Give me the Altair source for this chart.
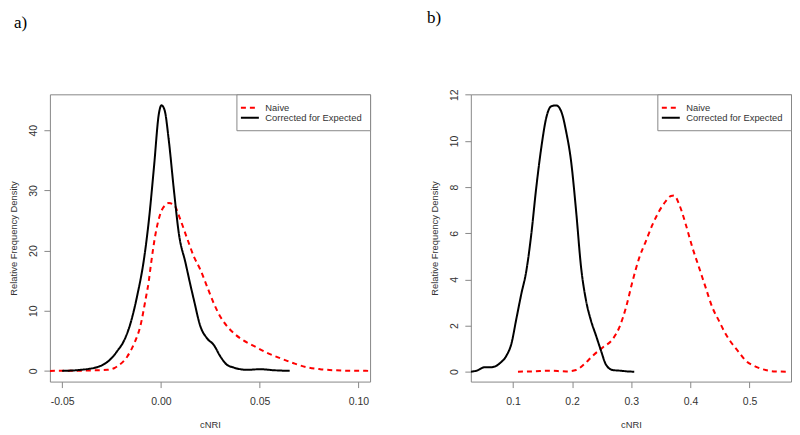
import altair as alt
import pandas as pd

# ---------------- Panel a ----------------
a_naive_x = [-0.0562, -0.045, -0.0389, -0.0271, -0.0237, -0.0221, -0.017, -0.0136, -0.0103, -0.0077,
             -0.0061, -0.0052, -0.0027, -0.0002, 0.0024, 0.004, 0.0066, 0.0099, 0.0133, 0.0167, 0.02,
             0.0234, 0.0268, 0.0301, 0.0352, 0.0402, 0.047, 0.0537, 0.0604, 0.0672, 0.0739, 0.0806,
             0.0874, 0.0958, 0.1055]
a_naive_y = [0, 0.01, 0.05, 0.17, 0.44, 0.75, 2.4, 4.5, 7.6, 12.0,
             15.0, 17.3, 22.8, 26.2, 27.6, 27.9, 27.6, 25.1, 22.0, 19.0, 16.8,
             14.0, 11.2, 9.0, 6.8, 5.4, 4.15, 3.0, 2.1, 1.27, 0.6, 0.28,
             0.11, 0.02, 0]
a_corr_x = [-0.050, -0.0406, -0.0305, -0.0237, -0.0221, -0.0187, -0.0153, -0.0120, -0.0086, -0.0061,
            -0.0035, -0.0010, 0.0003, 0.0019, 0.0040, 0.0066, 0.0091, 0.0125, 0.0150, 0.0167, 0.0200,
            0.0234, 0.0268, 0.0301, 0.0335, 0.0369, 0.0436, 0.0503, 0.0571, 0.0652]
a_corr_y = [0, 0.17, 0.83, 2.6, 3.3, 5.0, 8.0, 12.5, 18.5, 25.0,
            33.9, 42.8, 44.15, 43.3, 38.3, 30.0, 22.8, 17.9, 14.2, 11.8, 7.4,
            5.4, 4.3, 2.4, 1.0, 0.55, 0.17, 0.28, 0.11, 0]

# ---------------- Panel b ----------------
b_naive_x = [0.1084, 0.1337, 0.1618, 0.1899, 0.2067, 0.2208, 0.2348, 0.2517, 0.2685, 0.2798,
             0.2910, 0.3022, 0.3135, 0.3247, 0.3360, 0.3472, 0.3584, 0.3669, 0.3725, 0.3809,
             0.3921, 0.4034, 0.4146, 0.4258, 0.4371, 0.4483, 0.4596, 0.4708, 0.4820, 0.4933,
             0.5101, 0.5270, 0.5438, 0.5635]
b_naive_y = [0, 0.01, 0.04, 0.01, 0.07, 0.33, 0.69, 1.05, 1.41, 1.92,
             2.78, 3.93, 4.94, 5.66, 6.38, 6.96, 7.39, 7.61, 7.63, 7.25,
             6.38, 5.37, 4.51, 3.64, 2.78, 2.2, 1.63, 1.2, 0.84, 0.48,
             0.22, 0.07, 0.01, 0]
b_corr_x = [0.0287, 0.0382, 0.0522, 0.0607, 0.0691, 0.0775, 0.0888, 0.0972, 0.1056, 0.1140,
            0.1225, 0.1309, 0.1393, 0.1478, 0.1562, 0.1646, 0.1730, 0.1815, 0.1899, 0.1983,
            0.2067, 0.2152, 0.2236, 0.2320, 0.2404, 0.2489, 0.2573, 0.2685, 0.2826, 0.2938, 0.3050]
b_corr_y = [0, 0.04, 0.19, 0.19, 0.22, 0.36, 0.69, 1.2, 2.28, 3.36,
            4.36, 5.95, 7.97, 9.7, 11.0, 11.5, 11.54, 11.28, 10.4, 9.1,
            6.96, 4.5, 3.07, 2.2, 1.56, 0.9, 0.3, 0.07, 0.04, 0.01, 0]

series_order = ["Naive", "Corrected for Expected"]
series_colors = ["#ff0000", "#000000"]
series_dash = [[5, 4], [1, 0]]


def make_df(nx, ny, cx, cy):
    d1 = pd.DataFrame({"x": nx, "y": ny, "series": "Naive", "order": list(range(len(nx)))})
    d2 = pd.DataFrame({"x": cx, "y": cy, "series": "Corrected for Expected", "order": list(range(len(cx)))})
    return pd.concat([d1, d2], ignore_index=True)


def legend():
    return alt.Legend(
        title=None, orient="top-right", offset=0,
        symbolType="M-2,0L2,0", symbolSize=81, symbolStrokeWidth=2,
        labelFont="Liberation Sans", labelFontSize=9.4, labelColor="#333",
        labelOffset=10, padding=8, rowPadding=0,
        strokeColor="#888", fillColor="white", cornerRadius=0,
    )


def panel(df, xdom, xticks, xexpr, ydom, yticks, tag, tag_dx):
    return alt.Chart(df).mark_line(strokeWidth=2, interpolate="monotone", clip=True).encode(
        x=alt.X("x:Q", scale=alt.Scale(domain=xdom, nice=False, zero=False),
                axis=alt.Axis(values=xticks, labelExpr=xexpr, title="cNRI")),
        y=alt.Y("y:Q", scale=alt.Scale(domain=ydom, nice=False, zero=False),
                axis=alt.Axis(values=yticks, title="Relative Frequency Density",
                              labelAngle=270, labelAlign="center", labelBaseline="bottom")),
        color=alt.Color("series:N", scale=alt.Scale(domain=series_order, range=series_colors), legend=legend()),
        strokeDash=alt.StrokeDash("series:N", scale=alt.Scale(domain=series_order, range=series_dash), legend=legend()),
        order="order:Q",
    ).properties(
        width=321, height=288,
        title=alt.TitleParams(tag, anchor="start", frame="group", dx=tag_dx, offset=62,
                              font="Liberation Serif", fontSize=17, fontWeight="normal", color="#000"),
    )


df_a = make_df(a_naive_x, a_naive_y, a_corr_x, a_corr_y)
df_b = make_df(b_naive_x, b_naive_y, b_corr_x, b_corr_y)

xa_expr = "datum.value < -0.0001 ? '-' + format(-datum.value, '.2f') : format(abs(datum.value), '.2f')"
xb_expr = "format(datum.value, '.1f')"

pa = panel(df_a, [-0.0562, 0.1059], [-0.05, 0.0, 0.05, 0.10], xa_expr,
           [-1.78, 45.97], [0, 10, 20, 30, 40], "a)", -36)
pb = panel(df_b, [0.0287, 0.570], [0.1, 0.2, 0.3, 0.4, 0.5], xb_expr,
           [-0.43, 12.02], [0, 2, 4, 6, 8, 10, 12], "b)", -44)

chart = alt.hconcat(pa, pb, spacing=101).resolve_scale(
    color="independent", strokeDash="independent", x="independent", y="independent"
).resolve_legend(
    color="independent", strokeDash="independent"
).properties(
    padding=0, bounds="flush"
).configure_view(
    stroke="#888", strokeWidth=1
).configure_axis(
    domain=False, grid=False,
    tickColor="#888", tickSize=6, tickWidth=1,
    labelFont="Liberation Sans", labelFontSize=10.5, labelColor="#333", labelPadding=5,
    titleFont="Liberation Sans", titleFontSize=9.4, titleColor="#333", titleFontWeight="normal",
).configure_axisX(
    labelPadding=9, titlePadding=14
).configure_axisY(
    titlePadding=10
)

chart.save("out.html", embed_options={"renderer": "svg", "actions": False})
